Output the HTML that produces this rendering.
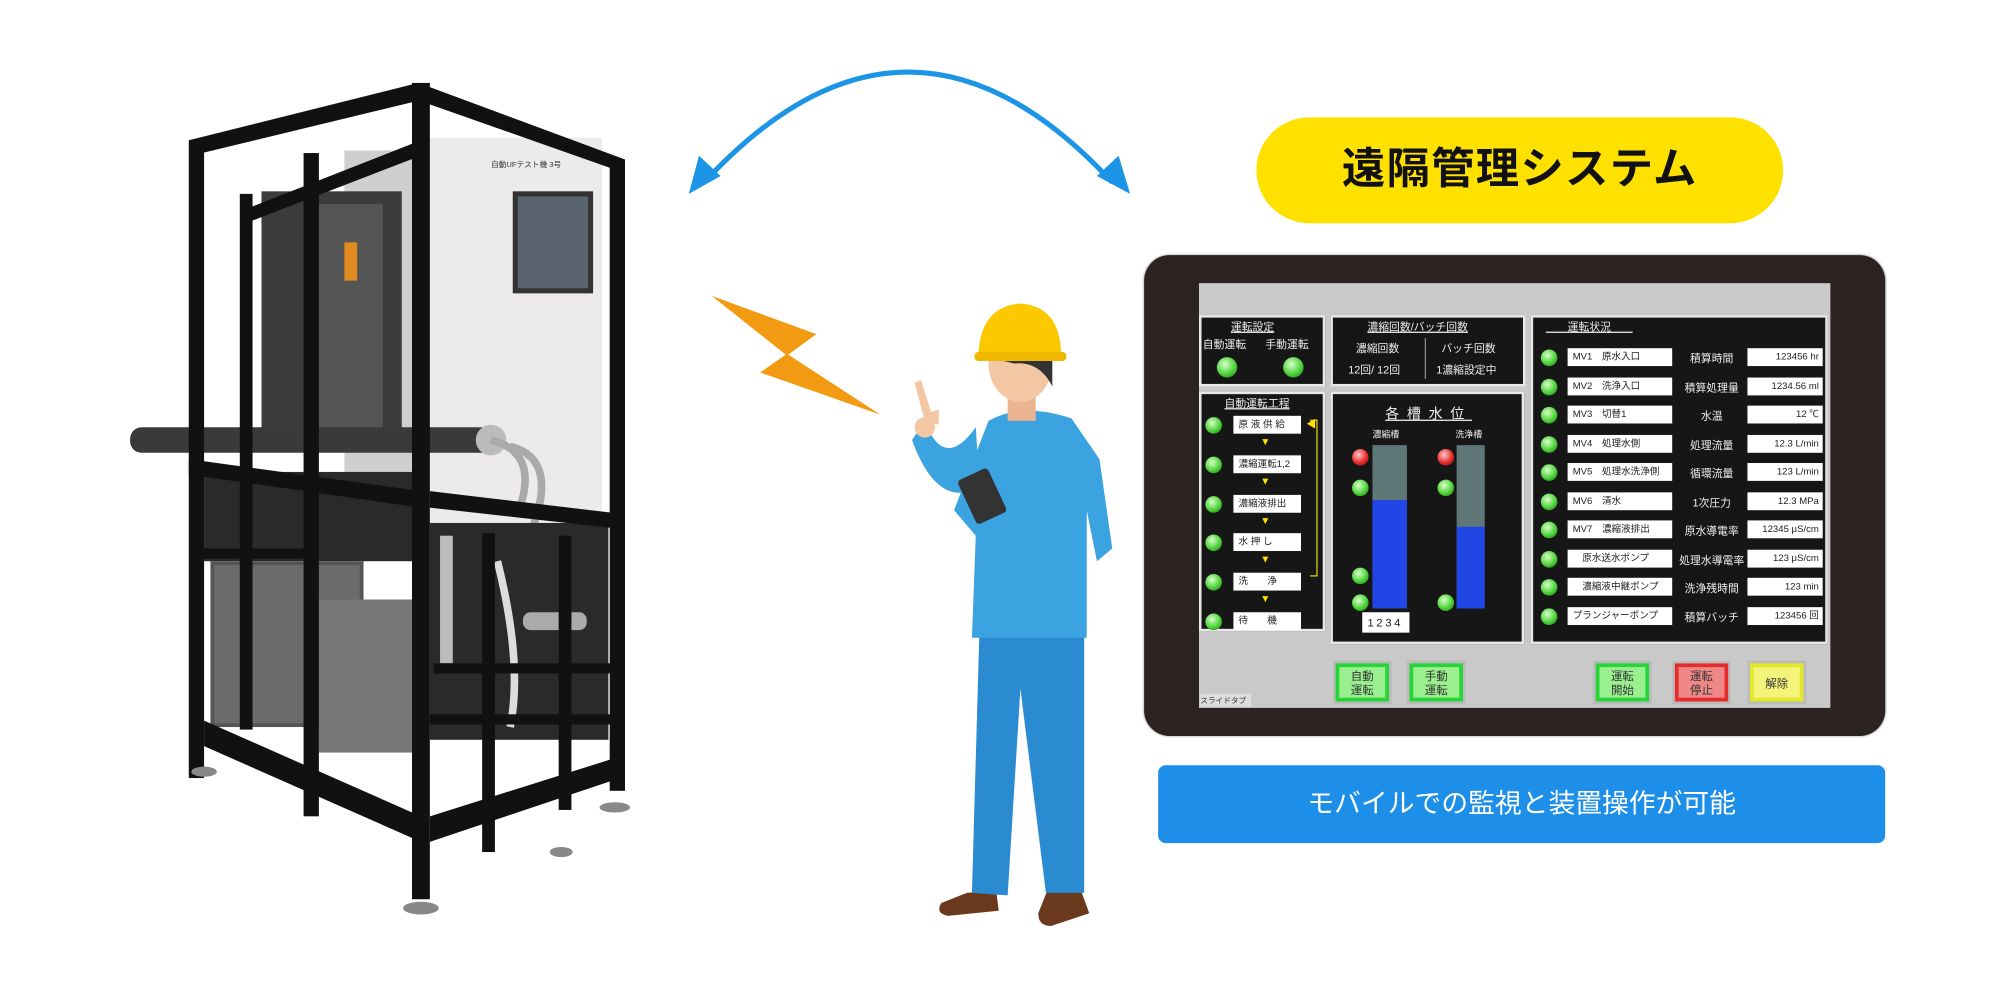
<!DOCTYPE html>
<html><head><meta charset="utf-8"><style>
html,body{margin:0;padding:0;background:#fff;overflow:hidden}
body{width:2000px;height:988px;position:relative}
#w{position:absolute;left:0;top:0;width:1568px;height:775px;transform:scale(1.27551);transform-origin:0 0;font-family:"Liberation Sans","Noto Sans CJK JP",sans-serif}
.a{position:absolute}
.pn{position:absolute;background:#161616;border:2px solid #e8e8e8;box-sizing:border-box}
.t{font-size:8.5px;color:#eee;position:absolute;white-space:nowrap}
.bx{position:absolute;background:#fff;color:#222;font-size:7.5px;height:14px;line-height:14px;padding-left:4px;box-sizing:border-box;white-space:nowrap;overflow:hidden}
.led{position:absolute;width:13px;height:13px;border-radius:50%;background:radial-gradient(circle at 40% 35%,#d8ffc8,#4dd23a 55%,#1e6a12);}
.red{background:radial-gradient(circle at 40% 35%,#ffc8c8,#e52b2b 55%,#7a1010)}
.btn{position:absolute;width:42px;height:30px;border:3px solid #27d43a;box-sizing:border-box;background:#9af08e;font-size:9px;text-align:center;line-height:11px;padding-top:2px;color:#333;outline:2px solid #bbb}
.y{position:absolute;color:#ffe000;font-size:8px}
</style></head><body><div id="w">

<svg class="a" style="left:0;top:0" width="900" height="775" viewBox="0 0 900 775">
<rect x="330" y="108" width="142" height="305" fill="#eceaea"/>
<rect x="270" y="118" width="66" height="300" fill="#cfcfcf"/>
<rect x="402" y="150" width="63" height="80" fill="#333"/><rect x="406" y="154" width="55" height="72" fill="#5a6470"/>
<text x="385" y="131" font-size="6" fill="#333">自動UFテスト機 3号</text>
<rect x="205" y="150" width="110" height="200" fill="#3c3c3c"/>
<rect x="240" y="160" width="60" height="180" fill="#555"/>
<rect x="270" y="190" width="10" height="30" fill="#e08a20"/>
<rect x="102" y="335" width="285" height="20" rx="9" fill="#3a3a3a"/>
<circle cx="385" cy="345" r="12" fill="#bbb"/>
<path d="M385 345 q40 10 20 60 M400 350 q40 10 15 70" stroke="#aaa" stroke-width="6" fill="none"/>
<rect x="160" y="370" width="170" height="70" fill="#2a2a2a"/>
<rect x="165" y="440" width="120" height="130" fill="#555"/><rect x="168" y="443" width="114" height="124" fill="#6b6b6b"/>
<rect x="250" y="470" width="75" height="120" fill="#777"/>
<rect x="337" y="410" width="140" height="170" fill="#2a2a2a"/>
<rect x="345" y="420" width="10" height="100" fill="#bbb"/>
<path d="M390 440 q20 80 10 130" stroke="#ddd" stroke-width="6" fill="none"/>
<rect x="410" y="480" width="50" height="14" rx="6" fill="#aaa"/>
<g fill="#111">
<polygon points="148,110 328,65 332,78 150,122"/>
<polygon points="328,65 490,125 488,135 326,78"/>
<rect x="148" y="110" width="12" height="500"/>
<rect x="188" y="152" width="10" height="420"/>
<rect x="238" y="120" width="12" height="520"/>
<rect x="323" y="65" width="14" height="640"/>
<rect x="478" y="125" width="12" height="495"/>
<rect x="378" y="418" width="10" height="250"/>
<rect x="438" y="420" width="10" height="215"/>
<polygon points="160,565 330,640 330,660 160,585"/>
<polygon points="337,640 480,595 480,612 337,660"/>
<polygon points="148,360 330,385 330,398 148,372"/>
<polygon points="337,385 480,402 480,414 337,398"/>
<polygon points="190,165 330,110 330,122 190,176"/>
<rect x="150" y="430" width="95" height="8"/>
<rect x="340" y="520" width="140" height="8"/>
<rect x="337" y="560" width="145" height="8"/>
</g>
<g fill="#888"><ellipse cx="330" cy="712" rx="14" ry="5"/><ellipse cx="160" cy="605" rx="10" ry="4"/><ellipse cx="482" cy="633" rx="12" ry="4"/><ellipse cx="440" cy="668" rx="9" ry="4"/></g>

<path d="M552 143 Q712 -30 872 143" stroke="#1c95e6" stroke-width="4" fill="none"/>
<polygon points="540,152 548,122 565,138" fill="#1c95e6"/>
<polygon points="886,152 877,122 860,138" fill="#1c95e6"/>
<polygon points="558,232 640,262 618,278 690,325 596,292 616,278" fill="#f29a11"/>
</svg>

<svg class="a" style="left:690px;top:230px" width="200" height="510" viewBox="690 230 200 510">
<path d="M758 700 l-20 8 q-5 8 5 10 l40 -4 l-2 -16z" fill="#6b3a1e"/>
<path d="M822 696 l-8 20 q0 10 10 10 l30 -10 l-8 -22z" fill="#6b3a1e"/>
<path d="M768 490 L762 700 L790 702 L800 540 L820 700 L850 700 L850 490z" fill="#2a8bd0"/>
<path d="M775 330 Q800 315 840 328 L862 360 L872 430 L860 440 L852 400 L852 500 L762 500 L765 420 L748 400 Z" fill="#3ba4e0"/>
<path d="M765 335 Q740 370 725 330 L715 345 Q735 400 768 382z" fill="#3ba4e0"/>
<path d="M725 330 l-8 -30 l5 -2 l8 25 l6 -2 l0 12z" fill="#f3c7a4"/>
<circle cx="725" cy="335" r="8" fill="#f3c7a4"/>
<rect x="757" y="370" width="26" height="38" rx="3" transform="rotate(-25 770 389)" fill="#333"/>
<path d="M852 390 Q830 400 800 395 l-5 12 q30 8 57 -3z" fill="#3ba4e0"/>
<rect x="790" y="300" width="22" height="30" fill="#e9b48f"/>
<ellipse cx="800" cy="285" rx="25" ry="30" fill="#f3c7a4"/>
<path d="M775 280 q0 -25 30 -22 q20 4 20 20 l0 25 q-10 -20 -30 -18z" fill="#333"/>
<path d="M767 280 Q768 240 800 238 Q832 240 832 280 Z" fill="#fcc800"/>
<rect x="764" y="276" width="72" height="7" rx="3" fill="#f0b800"/>
</svg>

<div class="a" style="left:985px;top:92px;width:413px;height:83px;border-radius:42px;background:#ffe100;text-align:center;line-height:83px;font-size:34px;font-weight:bold;color:#111;letter-spacing:1px">遠隔管理システム</div>

<div class="a" style="left:897px;top:200px;width:581px;height:377px;border-radius:20px;background:#2b2221;box-shadow:0 0 2px #888"></div>
<div class="a" style="left:940px;top:222px;width:495px;height:333px;background:#c9c9c9"></div>

<div class="pn" style="left:940px;top:247px;width:99px;height:56px"></div>
<div class="t" style="left:965px;top:250px;text-decoration:underline">運転設定</div>
<div class="t" style="left:943px;top:264px">自動運転</div><div class="t" style="left:992px;top:264px">手動運転</div>
<div class="led" style="left:954px;top:280px;width:16px;height:16px"></div><div class="led" style="left:1006px;top:280px;width:16px;height:16px"></div>
<div class="pn" style="left:1043px;top:247px;width:153px;height:56px"></div>
<div class="t" style="left:1072px;top:250px;text-decoration:underline">濃縮回数/バッチ回数</div>
<div class="t" style="left:1063px;top:267px">濃縮回数</div><div class="t" style="left:1130px;top:267px">バッチ回数</div>
<div class="t" style="left:1057px;top:284px">12回/ 12回</div><div class="t" style="left:1126px;top:284px">1濃縮設定中</div>
<div class="a" style="left:1117px;top:265px;width:1px;height:32px;background:#888"></div>
<div class="pn" style="left:940px;top:307px;width:99px;height:188px"></div>
<div class="t" style="left:960px;top:310px;text-decoration:underline">自動運転工程</div>
<div id="steps"></div>
<div class="a" style="left:1027px;top:329px;width:5px;height:121px;border:1px solid #e0d000;border-left:none"></div>
<div class="y" style="left:1024px;top:327px">◀</div>
<div class="pn" style="left:1043px;top:307px;width:152px;height:198px"></div>
<div class="t" style="left:1086px;top:316px;font-size:11px;text-decoration:underline;letter-spacing:6px">各槽水位</div>
<div class="t" style="left:1076px;top:336px;font-size:7px">濃縮槽</div><div class="t" style="left:1141px;top:336px;font-size:7px">洗浄槽</div>
<div class="a" style="left:1076px;top:349px;width:27px;height:128px;background:#5f7777"></div><div class="a" style="left:1076px;top:392px;width:27px;height:85px;background:#2046e6"></div>
<div class="a" style="left:1142px;top:349px;width:22px;height:128px;background:#5f7777"></div><div class="a" style="left:1142px;top:413px;width:22px;height:64px;background:#2046e6"></div>
<div class="led red" style="left:1060px;top:352px"></div><div class="led" style="left:1060px;top:376px"></div><div class="led" style="left:1060px;top:445px"></div><div class="led" style="left:1060px;top:466px"></div>
<div class="led red" style="left:1127px;top:352px"></div><div class="led" style="left:1127px;top:376px"></div><div class="led" style="left:1127px;top:466px"></div>
<div class="bx" style="left:1068px;top:480px;width:37px;font-size:9px;height:16px;line-height:16px;letter-spacing:2px">1234</div>
<div class="pn" style="left:1200px;top:247px;width:233px;height:258px"></div>
<div class="t" style="left:1212px;top:250px;text-decoration:underline">　　運転状況　　</div>
<div id="rows"></div>

<div class="btn" style="left:1047px;top:520px">自動<br>運転</div>
<div class="btn" style="left:1105px;top:520px">手動<br>運転</div>
<div class="btn" style="left:1251px;top:520px">運転<br>開始</div>
<div class="btn" style="left:1313px;top:520px;border-color:#e52b2b;background:#f08888">運転<br>停止</div>
<div class="btn" style="left:1372px;top:520px;border-color:#e4e82a;background:#f4f47a;line-height:22px">解除</div>
<div class="a" style="left:941px;top:544px;width:40px;height:10px;background:#ddd;font-size:6px;color:#333">スライドタブ</div>

<div class="a" style="left:908px;top:600px;width:570px;height:61px;border-radius:6px;background:#1e8fe8;color:#fff;font-size:21px;text-align:center;line-height:61px">モバイルでの監視と装置操作が可能</div>

<script>
var S=["原 液 供 給","濃縮運転1,2","濃縮液排出","水 押 し","洗　　浄","待　　機"];
var s="";for(var i=0;i<6;i++){var y=326+i*30.8;
s+='<div class="led" style="left:945px;top:'+(y+1)+'px"></div><div class="bx" style="left:967px;top:'+y+'px;width:53px">'+S[i]+'</div>';
if(i<5)s+='<div class="y" style="left:988px;top:'+(y+16)+'px">▼</div>';}
document.getElementById("steps").innerHTML=s;
var L=["MV1　原水入口","MV2　洗浄入口","MV3　切替1","MV4　処理水側","MV5　処理水洗浄側","MV6　清水","MV7　濃縮液排出","　原水送水ポンプ","　濃縮液中継ポンプ","プランジャーポンプ"];
var R=["積算時間","積算処理量","水温","処理流量","循環流量","1次圧力","原水導電率","処理水導電率","洗浄残時間","積算バッチ"];
var V=["123456 hr","1234.56 ml","12 ℃","12.3 L/min","123 L/min","12.3 MPa","12345 μS/cm","123 μS/cm","123 min","123456 回"];
var h="";for(var i=0;i<10;i++){var y=273+i*22.5;
h+='<div class="led" style="left:1208px;top:'+(y+1)+'px"></div><div class="bx" style="left:1229px;top:'+y+'px;width:82px">'+L[i]+'</div><div class="t" style="left:1316px;top:'+(y+2)+'px;width:52px;text-align:center">'+R[i]+'</div><div class="bx" style="left:1370px;top:'+y+'px;width:59px;text-align:right;padding-right:3px">'+V[i]+'</div>';}
document.getElementById("rows").innerHTML=h;
</script>
</div></body></html>
